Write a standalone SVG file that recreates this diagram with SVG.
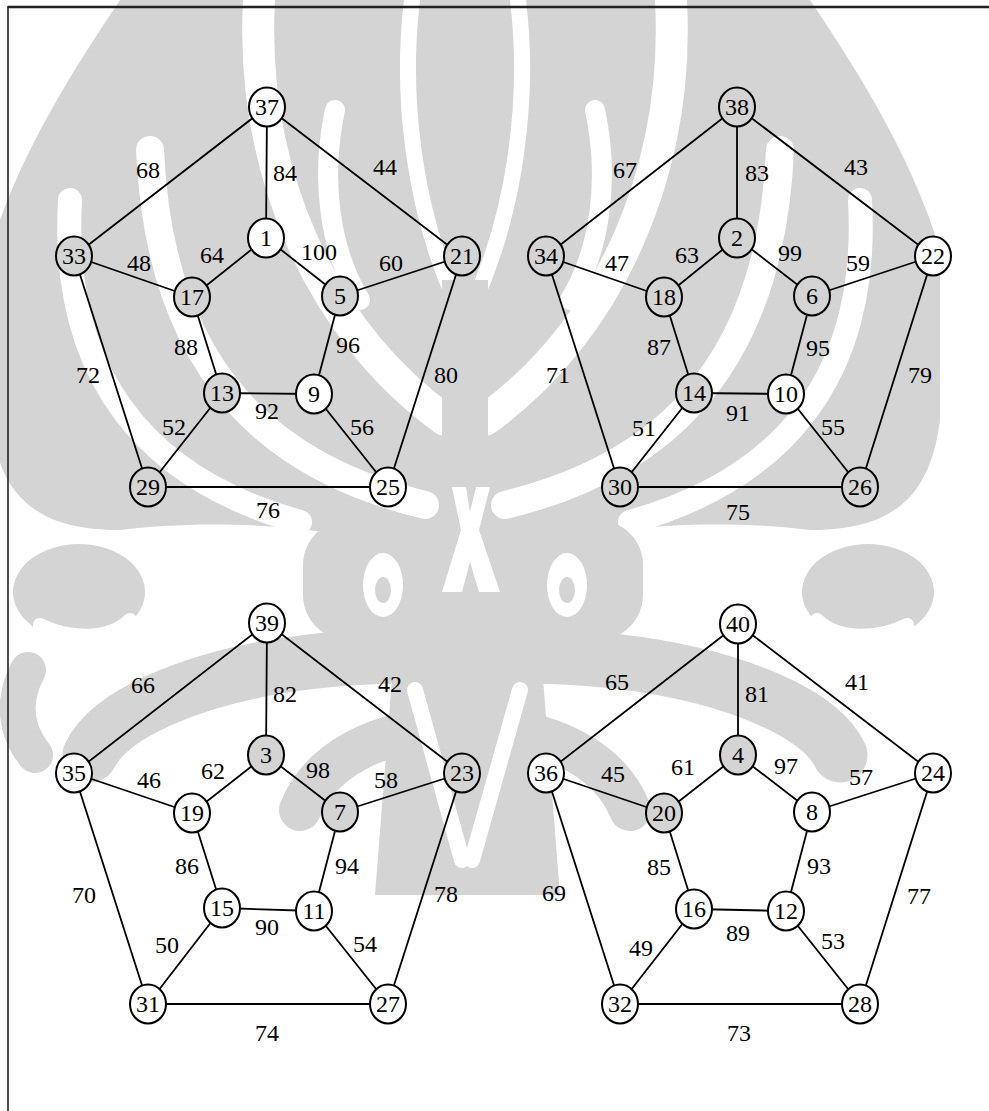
<svg xmlns="http://www.w3.org/2000/svg" width="989" height="1111" viewBox="0 0 989 1111" font-family="Liberation Serif, DejaVu Serif, serif">
<style>
.wmf{fill:#d4d4d4;stroke:none}
.wms{fill:none;stroke:#fff;stroke-linecap:round}
.wmg{fill:none;stroke:#d4d4d4;stroke-linecap:round}
.e{stroke:#000;stroke-width:1.8;fill:none}
.n ellipse{stroke:#000;stroke-width:2}
.w ellipse{fill:#fff}
.g ellipse{fill:#d4d4d4}
text{font-size:24px;fill:#000;text-anchor:middle}
</style>
<rect width="989" height="1111" fill="#fff"/>
<g id="watermark">
  <path class="wmf" d="M465 560 L440 560 C330 520 200 520 120 530 C40 530 0 500 -10 420 L-10 250 C20 150 80 60 120 0 L810 0 C850 60 910 150 940 250 L940 420 C930 500 890 530 810 530 C730 520 600 520 490 560 Z"/>
  <path class="wms" stroke-width="16" d="M455 300 C415 210 400 100 412 0 M475 300 C515 210 530 100 518 0"/>
  <path class="wms" stroke-width="32" d="M445 420 C320 330 250 170 259 0 M485 420 C610 330 680 170 671 0"/>
  <path class="wms" stroke-width="28" d="M425 505 C280 470 160 380 150 150 M505 505 C650 470 770 380 780 150"/>
  <path class="wms" stroke-width="24" d="M300 522 C150 480 60 380 70 200 M630 522 C780 480 870 380 860 200"/>
  <path class="wms" stroke-width="20" d="M360 300 C330 250 320 180 335 110 M570 300 C600 250 610 180 595 110"/>
  <rect class="wmf" x="442" y="280" width="46" height="380"/>
  <rect class="wmf" x="303" y="520" width="340" height="120" rx="45"/>
  <ellipse cx="383" cy="585" rx="20" ry="32" fill="#fff"/>
  <ellipse cx="383" cy="590" rx="8" ry="13" fill="#d4d4d4"/>
  <ellipse cx="567" cy="585" rx="20" ry="32" fill="#fff"/>
  <ellipse cx="567" cy="590" rx="8" ry="13" fill="#d4d4d4"/>
  <path fill="#fff" d="M452 487 L466 487 L470 512 L476 487 L490 487 L479 530 L500 592 L479 592 L470 562 L462 592 L442 592 L461 530 Z"/>
  <ellipse class="wmf" cx="79" cy="592" rx="66" ry="48"/>
  <ellipse class="wmf" cx="868" cy="592" rx="66" ry="48"/>
  <path class="wms" stroke-width="14" d="M40 625 C70 640 110 640 130 620 M907 625 C877 640 837 640 817 620"/>
  <path class="wmg" stroke-width="55" d="M465 660 C380 650 250 660 160 700 C120 718 100 735 90 755 M465 660 C550 650 680 660 770 700 C810 718 830 735 840 755"/>
  <path class="wmg" stroke-width="42" d="M440 730 C380 730 320 760 300 810 M490 730 C550 730 610 760 630 810"/>
  <path fill="#d4d4d4" d="M395 640 L540 640 L560 895 L375 895 Z"/>
  <path class="wms" stroke-width="16" d="M415 690 L462 860 M520 690 L472 860"/>
  <path class="wmg" stroke-width="36" d="M28 670 C12 700 15 730 35 755"/>
</g>
<g id="frame">
  <line x1="8" y1="7" x2="989" y2="7" stroke="#222" stroke-width="2.5"/>
  <line x1="8" y1="6" x2="8" y2="1111" stroke="#222" stroke-width="1.6"/>
</g>
<g id="connectors">
  <path class="e" d="M267 107L74 256M267 107L266 238M267 107L462 256M74 256L148 487M462 256L388 487M148 487L388 487M266 238L192 297M266 238L340 296M74 256L192 297M462 256L340 296M192 297L222 393M340 296L314 394M222 393L314 394M222 393L148 487M314 394L388 487"/>
  <path class="e" d="M737 107L546 256M737 107L737 238M737 107L933 256M546 256L620 487M933 256L860 487M620 487L860 487M737 238L664 297M737 238L812 296M546 256L664 297M933 256L812 296M664 297L694 393M812 296L786 394M694 393L786 394M694 393L620 487M786 394L860 487"/>
  <path class="e" d="M267 623L74 773M267 623L266 755M267 623L462 773M74 773L148 1004M462 773L388 1004M148 1004L388 1004M266 755L192 813M266 755L340 812M74 773L192 813M462 773L340 812M192 813L222 908M340 812L314 911M222 908L314 911M222 908L148 1004M314 911L388 1004"/>
  <path class="e" d="M738 624L546 773M738 624L738 755M738 624L933 773M546 773L620 1004M933 773L860 1004M620 1004L860 1004M738 755L664 813M738 755L812 812M546 773L664 813M933 773L812 812M664 813L694 909M812 812L786 911M694 909L786 911M694 909L620 1004M786 911L860 1004"/>
</g>
<g id="edge-labels">
  <text x="148" y="178">68</text><text x="285" y="181">84</text><text x="385" y="175">44</text>
  <text x="212" y="263">64</text><text x="319" y="260">100</text><text x="139" y="271">48</text><text x="391" y="271">60</text>
  <text x="186" y="355">88</text><text x="348" y="353">96</text><text x="88" y="383">72</text><text x="446" y="383">80</text>
  <text x="267" y="419">92</text><text x="174" y="435">52</text><text x="362" y="435">56</text><text x="268" y="518">76</text>

  <text x="625" y="178">67</text><text x="757" y="181">83</text><text x="856" y="175">43</text>
  <text x="687" y="263">63</text><text x="790" y="261">99</text><text x="617" y="271">47</text><text x="858" y="271">59</text>
  <text x="659" y="355">87</text><text x="818" y="356">95</text><text x="558" y="383">71</text><text x="920" y="383">79</text>
  <text x="738" y="421">91</text><text x="644" y="436">51</text><text x="833" y="435">55</text><text x="738" y="520">75</text>

  <text x="143" y="693">66</text><text x="285" y="702">82</text><text x="390" y="692">42</text>
  <text x="213" y="779">62</text><text x="318" y="778">98</text><text x="149" y="788">46</text><text x="386" y="788">58</text>
  <text x="187" y="874">86</text><text x="347" y="874">94</text><text x="84" y="903">70</text><text x="446" y="902">78</text>
  <text x="267" y="935">90</text><text x="167" y="953">50</text><text x="365" y="952">54</text><text x="267" y="1041">74</text>

  <text x="617" y="690">65</text><text x="757" y="702">81</text><text x="857" y="690">41</text>
  <text x="683" y="775">61</text><text x="786" y="774">97</text><text x="613" y="782">45</text><text x="861" y="785">57</text>
  <text x="659" y="875">85</text><text x="819" y="874">93</text><text x="554" y="901">69</text><text x="919" y="904">77</text>
  <text x="738" y="941">89</text><text x="641" y="956">49</text><text x="833" y="949">53</text><text x="739" y="1041">73</text>
</g>
<g id="nodes">
<g id="n37" class="n w"><ellipse cx="267" cy="107" rx="18" ry="19.5"/><text x="267" y="115">37</text></g>
<g id="n1" class="n w"><ellipse cx="266" cy="238" rx="18" ry="19.5"/><text x="266" y="246">1</text></g>
<g id="n33" class="n g"><ellipse cx="74" cy="256" rx="18" ry="19.5"/><text x="74" y="264">33</text></g>
<g id="n21" class="n g"><ellipse cx="462" cy="256" rx="18" ry="19.5"/><text x="462" y="264">21</text></g>
<g id="n17" class="n g"><ellipse cx="192" cy="297" rx="18" ry="19.5"/><text x="192" y="305">17</text></g>
<g id="n5" class="n g"><ellipse cx="340" cy="296" rx="18" ry="19.5"/><text x="340" y="304">5</text></g>
<g id="n13" class="n g"><ellipse cx="222" cy="393" rx="18" ry="19.5"/><text x="222" y="401">13</text></g>
<g id="n9" class="n w"><ellipse cx="314" cy="394" rx="18" ry="19.5"/><text x="314" y="402">9</text></g>
<g id="n29" class="n g"><ellipse cx="148" cy="487" rx="18" ry="19.5"/><text x="148" y="495">29</text></g>
<g id="n25" class="n w"><ellipse cx="388" cy="487" rx="18" ry="19.5"/><text x="388" y="495">25</text></g>

<g id="n38" class="n g"><ellipse cx="737" cy="107" rx="18" ry="19.5"/><text x="737" y="115">38</text></g>
<g id="n2" class="n g"><ellipse cx="737" cy="238" rx="18" ry="19.5"/><text x="737" y="246">2</text></g>
<g id="n34" class="n g"><ellipse cx="546" cy="256" rx="18" ry="19.5"/><text x="546" y="264">34</text></g>
<g id="n22" class="n w"><ellipse cx="933" cy="256" rx="18" ry="19.5"/><text x="933" y="264">22</text></g>
<g id="n18" class="n g"><ellipse cx="664" cy="297" rx="18" ry="19.5"/><text x="664" y="305">18</text></g>
<g id="n6" class="n g"><ellipse cx="812" cy="296" rx="18" ry="19.5"/><text x="812" y="304">6</text></g>
<g id="n14" class="n g"><ellipse cx="694" cy="393" rx="18" ry="19.5"/><text x="694" y="401">14</text></g>
<g id="n10" class="n w"><ellipse cx="786" cy="394" rx="18" ry="19.5"/><text x="786" y="402">10</text></g>
<g id="n30" class="n g"><ellipse cx="620" cy="487" rx="18" ry="19.5"/><text x="620" y="495">30</text></g>
<g id="n26" class="n g"><ellipse cx="860" cy="487" rx="18" ry="19.5"/><text x="860" y="495">26</text></g>

<g id="n39" class="n w"><ellipse cx="267" cy="623" rx="18" ry="19.5"/><text x="267" y="631">39</text></g>
<g id="n3" class="n g"><ellipse cx="266" cy="755" rx="18" ry="19.5"/><text x="266" y="763">3</text></g>
<g id="n35" class="n w"><ellipse cx="74" cy="773" rx="18" ry="19.5"/><text x="74" y="781">35</text></g>
<g id="n23" class="n g"><ellipse cx="462" cy="773" rx="18" ry="19.5"/><text x="462" y="781">23</text></g>
<g id="n19" class="n w"><ellipse cx="192" cy="813" rx="18" ry="19.5"/><text x="192" y="821">19</text></g>
<g id="n7" class="n g"><ellipse cx="340" cy="812" rx="18" ry="19.5"/><text x="340" y="820">7</text></g>
<g id="n15" class="n w"><ellipse cx="222" cy="908" rx="18" ry="19.5"/><text x="222" y="916">15</text></g>
<g id="n11" class="n w"><ellipse cx="314" cy="911" rx="18" ry="19.5"/><text x="314" y="919">11</text></g>
<g id="n31" class="n w"><ellipse cx="148" cy="1004" rx="18" ry="19.5"/><text x="148" y="1012">31</text></g>
<g id="n27" class="n w"><ellipse cx="388" cy="1004" rx="18" ry="19.5"/><text x="388" y="1012">27</text></g>

<g id="n40" class="n w"><ellipse cx="738" cy="624" rx="18" ry="19.5"/><text x="738" y="632">40</text></g>
<g id="n4" class="n g"><ellipse cx="738" cy="755" rx="18" ry="19.5"/><text x="738" y="763">4</text></g>
<g id="n36" class="n w"><ellipse cx="546" cy="773" rx="18" ry="19.5"/><text x="546" y="781">36</text></g>
<g id="n24" class="n w"><ellipse cx="933" cy="773" rx="18" ry="19.5"/><text x="933" y="781">24</text></g>
<g id="n20" class="n g"><ellipse cx="664" cy="813" rx="18" ry="19.5"/><text x="664" y="821">20</text></g>
<g id="n8" class="n w"><ellipse cx="812" cy="812" rx="18" ry="19.5"/><text x="812" y="820">8</text></g>
<g id="n16" class="n w"><ellipse cx="694" cy="909" rx="18" ry="19.5"/><text x="694" y="917">16</text></g>
<g id="n12" class="n w"><ellipse cx="786" cy="911" rx="18" ry="19.5"/><text x="786" y="919">12</text></g>
<g id="n32" class="n w"><ellipse cx="620" cy="1004" rx="18" ry="19.5"/><text x="620" y="1012">32</text></g>
<g id="n28" class="n w"><ellipse cx="860" cy="1004" rx="18" ry="19.5"/><text x="860" y="1012">28</text></g>
</g>
</svg>
